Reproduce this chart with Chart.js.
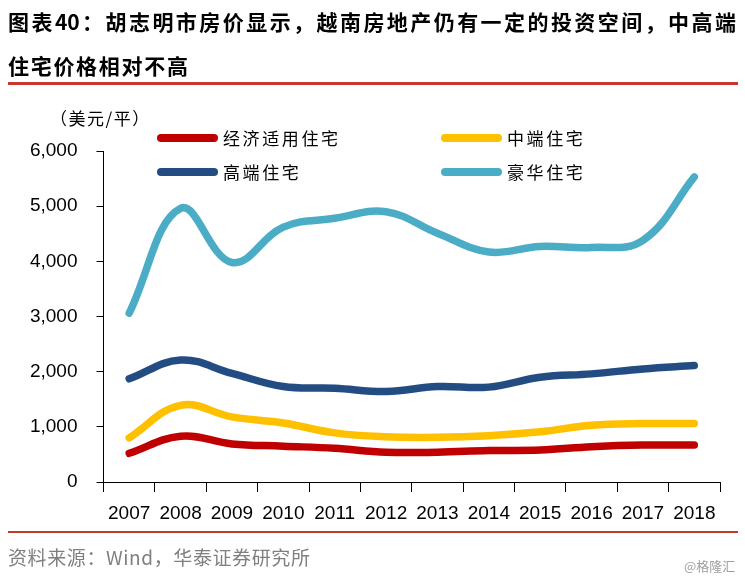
<!DOCTYPE html>
<html lang="zh">
<head>
<meta charset="UTF-8">
<title>胡志明市房价</title>
<script src="https://cdn.jsdelivr.net/npm/chart.js"></script>
<style>
  body { margin: 0; background: #fff; }
  #wrap { position: relative; width: 745px; height: 578px; overflow: hidden; font-family: "Noto Sans CJK SC", sans-serif; }
  #c { position: absolute; left: 0; top: 0; }
  .title { position: absolute; left: 8px; width: 728px; font-weight: bold; font-size: 21px; letter-spacing: 1.7px; color: #000; line-height: 26px; white-space: nowrap; }
  #t1 { top: 8px; text-align: justify; text-align-last: justify; letter-spacing: 0; }
  #t2 { top: 52px; }
  .rule { position: absolute; left: 8px; width: 730px; background: #c8372d; }
  #unit { position: absolute; left: 50px; top: 105px; font-size: 17px; color: #000; letter-spacing: 1.5px; }
  .leg { position: absolute; height: 24px; font-size: 17px; letter-spacing: 2.6px; color: #000; line-height: 24px; }
  .leg span.sw { position: absolute; left: 0; top: 8px; width: 61px; height: 8px; border-radius: 4px; }
  .leg span.tx { position: absolute; left: 66px; top: 0; white-space: nowrap; }
  #src { position: absolute; left: 8px; top: 543px; font-size: 19px; color: #7f7f7f; letter-spacing: 0.6px; }
  #wm { position: absolute; left: 684px; top: 556px; font-size: 13px; color: #a0a0a0; }
</style>
</head>
<body>
<div id="wrap">
  <canvas id="c" width="745" height="578"></canvas>
  <div class="title" id="t1">图表40：胡志明市房价显示，越南房地产仍有一定的投资空间，中高端</div>
  <div class="title" id="t2">住宅价格相对不高</div>
  <div class="rule" style="top:82px;height:3px"></div>
  <div id="unit">（美元/平）</div>
  <div id="legend"></div>
  <div class="rule" style="top:531px;height:2px"></div>
  <div id="src">资料来源：Wind，华泰证券研究所</div>
  <div id="wm">@格隆汇</div>
</div>
<script>
// data (USD per square metre)
const years = ['2007', '2008', '2009', '2010', '2011', '2012', '2013', '2014', '2015', '2016', '2017', '2018'];
const economy = [520, 830, 690, 650, 610, 540, 540, 570, 580, 640, 670, 670];
const midRange = [800, 1390, 1180, 1070, 890, 820, 810, 840, 910, 1030, 1060, 1060];
const highEnd = [1870, 2210, 1970, 1730, 1700, 1640, 1730, 1720, 1900, 1960, 2050, 2110];
const luxury = [3060, 4960, 3980, 4620, 4780, 4900, 4510, 4170, 4270, 4250, 4380, 5530];
const seriesNames = ['经济适用住宅', '中端住宅', '高端住宅', '豪华住宅'];
const seriesColors = ['#c00000', '#ffc000', '#234d82', '#4bacc6'];
const yTicks = [0, 1000, 2000, 3000, 4000, 5000, 6000];

// legend, 2 columns
const legPos = [[157, 126], [441, 126], [157, 160], [441, 160]];
const legend = document.getElementById('legend');
seriesNames.forEach((name, i) => {
    const d = document.createElement('div');
    d.className = 'leg';
    d.style.left = legPos[i][0] + 'px';
    d.style.top = legPos[i][1] + 'px';
    d.innerHTML = '<span class="sw" style="background:' + seriesColors[i] + '"></span><span class="tx">' + name + '</span>';
    legend.appendChild(d);
});

const allData = [economy, midRange, highEnd, luxury];
const axisFont = { family: '"Liberation Sans", Arial, sans-serif', size: 19 };

new Chart(document.getElementById('c').getContext('2d'), {
    type: 'line',
    data: {
        labels: years,
        datasets: allData.map((d, i) => ({
            label: seriesNames[i],
            data: d,
            borderColor: seriesColors[i],
            backgroundColor: seriesColors[i],
            borderWidth: 7.5,
            borderCapStyle: 'round',
            borderJoinStyle: 'round',
            pointRadius: 0,
            tension: 0.4,
            fill: false
        }))
    },
    options: {
        responsive: false,
        animation: false,
        layout: { padding: { top: 151, right: 25, bottom: 0, left: 0 } },
        plugins: { legend: { display: false }, tooltip: { enabled: false } },
        scales: {
            x: {
                offset: true,
                grid: { offset: true, drawOnChartArea: false, drawTicks: true, tickLength: 10, color: '#000' },
                border: { display: true, color: '#000', width: 1 },
                ticks: { font: axisFont, color: '#000', padding: 10, maxRotation: 0, autoSkip: false },
                afterFit: s => { s.height = 96; }
            },
            y: {
                min: 0,
                max: 6000,
                afterBuildTicks: s => { s.ticks = yTicks.map(v => ({ value: v })); },
                grid: { drawOnChartArea: false, drawTicks: true, tickLength: 7, color: '#000' },
                border: { display: true, color: '#000', width: 1 },
                ticks: {
                    font: axisFont, color: '#000', padding: 19,
                    callback: v => v.toLocaleString('en-US')
                },
                afterFit: s => { s.width = 103.5; }
            }
        }
    }
});
</script>
</body>
</html>
